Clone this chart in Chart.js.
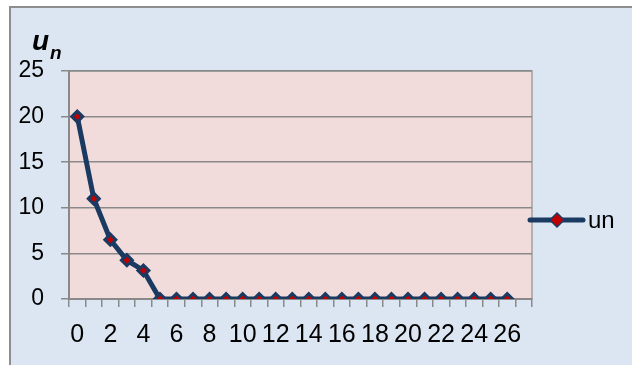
<!DOCTYPE html>
<html>
<head>
<meta charset="utf-8">
<script src="https://cdn.jsdelivr.net/npm/chart.js@4/dist/chart.umd.min.js"></script>
<style>
  html, body { margin: 0; padding: 0; background: #ffffff; }
  #wrap { position: relative; width: 632px; height: 365px; }
</style>
</head>
<body>
<div id="wrap"><canvas id="grafico" width="632" height="365"></canvas></div>
<script>
// Datos
const categorias = ['0','1','2','3','4','5','6','7','8','9','10','11','12','13','14','15','16','17','18','19','20','21','22','23','24','25','26','27'];
const valoresUn = [20, 11, 6.5, 4.25, 3.125, 0, 0, 0, 0, 0, 0, 0, 0, 0, 0, 0, 0, 0, 0, 0, 0, 0, 0, 0, 0, 0, 0, null];
const ticksY = [0, 5, 10, 15, 20, 25];

const azul = '#1b3a62';
const rojo = '#c00000';
const gris = '#898989';
const fuente = '"Liberation Sans", Arial, sans-serif';

// fondo, marco, área de trazado, título y leyenda
const decorado = {
  id: 'decorado',
  beforeDraw(chart) {
    const c = chart.ctx;
    const a = chart.chartArea;
    c.save();
    c.fillStyle = '#ffffff';
    c.fillRect(0, 0, chart.width, chart.height);
    c.fillStyle = '#dce6f2';
    c.fillRect(10, 7, chart.width - 10, chart.height - 7);
    c.strokeStyle = '#8e8e8e';
    c.lineWidth = 2;
    c.beginPath();
    c.moveTo(10, chart.height);
    c.lineTo(10, 7);
    c.lineTo(chart.width, 7);
    c.stroke();
    c.fillStyle = '#f2dcdb';
    c.fillRect(a.left, a.top, a.right - a.left, a.bottom - a.top);
    c.strokeStyle = '#a0a0a0';
    c.lineWidth = 1.5;
    c.strokeRect(a.left, a.top, a.right - a.left, a.bottom - a.top);
    c.restore();
  },
  afterDraw(chart) {
    const c = chart.ctx;
    c.save();
    c.fillStyle = '#000000';
    c.textBaseline = 'alphabetic';
    c.font = 'italic bold 28px ' + fuente;
    c.fillText('u', 32, 50);
    c.font = 'italic bold 19px ' + fuente;
    c.fillText('n', 50, 59);
    // leyenda
    c.strokeStyle = azul;
    c.lineWidth = 5;
    c.lineCap = 'round';
    c.beginPath();
    c.moveTo(530, 220);
    c.lineTo(583, 220);
    c.stroke();
    c.fillStyle = rojo;
    c.lineWidth = 3;
    c.beginPath();
    c.moveTo(557, 214);
    c.lineTo(563, 220);
    c.lineTo(557, 226);
    c.lineTo(551, 220);
    c.closePath();
    c.stroke();
    c.fill();
    c.fillStyle = '#000000';
    c.font = '24px ' + fuente;
    c.fillText('un', 588, 228);
    c.restore();
  }
};

const ctx = document.getElementById('grafico').getContext('2d');
new Chart(ctx, {
  type: 'line',
  data: {
    labels: categorias,
    datasets: [{
      label: 'un',
      data: valoresUn,
      borderColor: azul,
      borderWidth: 5,
      tension: 0,
      pointStyle: 'rectRot',
      pointRadius: 5.5,
      pointBorderWidth: 3,
      pointBackgroundColor: rojo,
      pointBorderColor: azul,
      spanGaps: false
    }]
  },
  options: {
    responsive: false,
    animation: false,
    devicePixelRatio: 1,
    layout: { padding: { top: 71, right: 100, bottom: 0, left: 0 } },
    plugins: {
      legend: { display: false },
      tooltip: { enabled: false }
    },
    scales: {
      x: {
        offset: true,
        grid: {
          offset: true,
          drawOnChartArea: false,
          drawTicks: true,
          tickLength: 8,
          color: gris,
          lineWidth: 1.5
        },
        border: { color: gris, width: 2 },
        ticks: {
          autoSkip: false,
          maxRotation: 0,
          color: '#000000',
          padding: 13,
          font: { family: fuente, size: 25 },
          callback: function (v, i) { return i % 2 === 0 ? categorias[i] : ''; }
        },
        afterFit(s) { s.height = 66; }
      },
      y: {
        min: 0,
        max: 25,
        afterBuildTicks(s) { s.ticks = ticksY.map(v => ({ value: v })); },
        grid: {
          color: gris,
          lineWidth: 1.5,
          drawTicks: true,
          tickLength: 8
        },
        border: { color: gris, width: 2 },
        ticks: {
          color: '#000000',
          padding: 17,
          font: { family: fuente, size: 23 }
        },
        afterFit(s) { s.width = 69; }
      }
    }
  },
  plugins: [decorado]
});
</script>
</body>
</html>
